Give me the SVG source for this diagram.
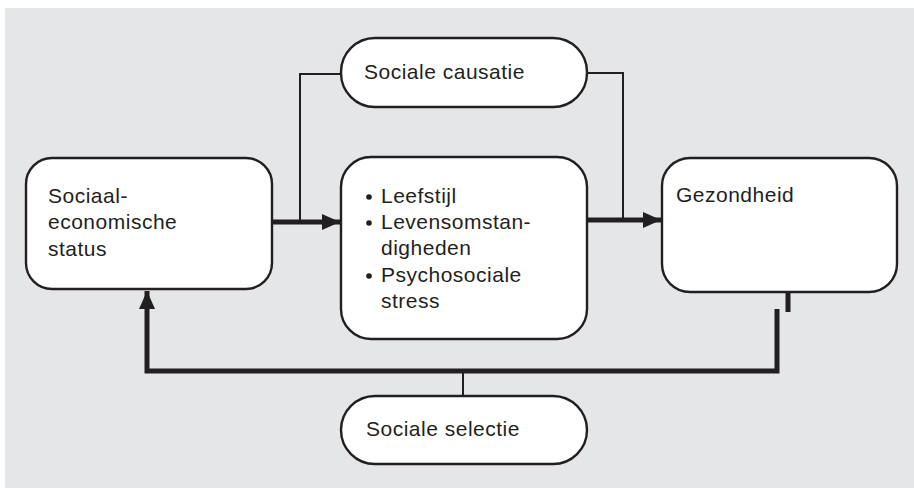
<svg xmlns="http://www.w3.org/2000/svg" width="914" height="488" viewBox="0 0 914 488">
  <style>
    .box { fill: #ffffff; stroke: #231f20; stroke-width: 2.4; }
    .lbl { font-family: "Liberation Sans", Arial, sans-serif; font-size: 21px; letter-spacing: 0.5px; fill: #231f20; }
    .thin { fill: none; stroke: #231f20; stroke-width: 2; }
    .thick { fill: none; stroke: #231f20; stroke-width: 5; }
    .head { fill: #231f20; }
  </style>
  <defs>
    <marker id="arrow" viewBox="0 0 18 16" refX="18" refY="8" markerWidth="18" markerHeight="16" markerUnits="userSpaceOnUse" orient="auto">
      <path d="M0,0 L18,8 L0,16 Z" class="head"/>
    </marker>
  </defs>

  <!-- panel background -->
  <rect x="5" y="8" width="909" height="480" fill="#e5e6e8"/>

  <!-- connectors -->
  <g id="connectors">
    <!-- status to mediators -->
    <line class="thick" x1="272" y1="222" x2="340" y2="222" marker-end="url(#arrow)"/>
    <!-- mediators to health -->
    <line class="thick" x1="587" y1="220" x2="661" y2="220" marker-end="url(#arrow)"/>
    <!-- causation bracket -->
    <polyline class="thin" points="341,74 300,74 300,222"/>
    <polyline class="thin" points="587,73 623,73 623,220"/>
    <!-- selection feedback loop -->
    <polyline class="thick" points="777,309 777,371 147,371 147,291" marker-end="url(#arrow)"/>
    <line class="thick" x1="788" y1="293" x2="788" y2="312"/>
    <line class="thin" x1="463" y1="371" x2="463" y2="396"/>
  </g>

  <g id="node-ses">
    <rect class="box" x="26" y="158" width="246" height="131" rx="26" ry="26"/>
    <text class="lbl" x="48" y="203">Sociaal-</text>
    <text class="lbl" x="48" y="229">economische</text>
    <text class="lbl" x="48" y="256">status</text>
  </g>

  <g id="node-causatie">
    <rect class="box" x="341" y="38" width="246" height="69" rx="34" ry="34"/>
    <text class="lbl" x="364" y="79">Sociale causatie</text>
  </g>

  <g id="node-mediators">
    <rect class="box" x="341" y="157" width="246" height="182" rx="30" ry="30"/>
    <circle cx="369" cy="197" r="2.8" class="head"/>
    <text class="lbl" x="381" y="203">Leefstijl</text>
    <circle cx="369" cy="223" r="2.8" class="head"/>
    <text class="lbl" x="381" y="229">Levensomstan-</text>
    <text class="lbl" x="381" y="255">digheden</text>
    <circle cx="369" cy="276" r="2.8" class="head"/>
    <text class="lbl" x="381" y="282">Psychosociale</text>
    <text class="lbl" x="381" y="308">stress</text>
  </g>

  <g id="node-gezondheid">
    <rect class="box" x="662" y="158" width="235" height="134" rx="28" ry="28"/>
    <text class="lbl" x="676" y="202">Gezondheid</text>
  </g>

  <g id="node-selectie">
    <rect class="box" x="341" y="396" width="246" height="68" rx="34" ry="34"/>
    <text class="lbl" x="366" y="436">Sociale selectie</text>
  </g>
</svg>
